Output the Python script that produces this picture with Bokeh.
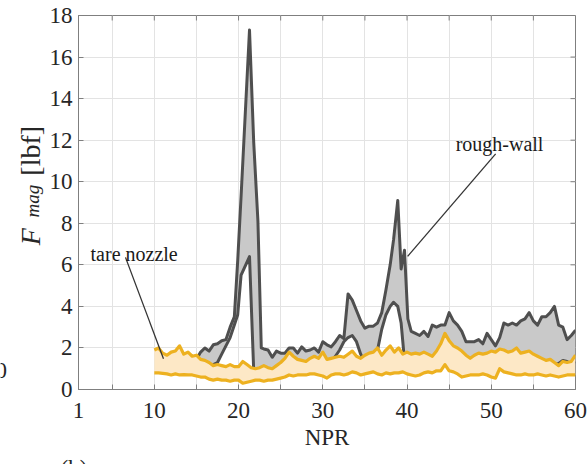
import numpy as np
from bokeh.plotting import figure
from bokeh.layouts import column, row
from bokeh.models import FixedTicker, Label, Range1d
from bokeh.embed import file_html
from bokeh.resources import INLINE

# ---- data: force magnitude vs nozzle pressure ratio -------------------------
# tare nozzle envelope (sampled every 0.5 NPR from 10 to 60)
tare_npr = np.arange(10.0, 60.01, 0.5)
tare_hi = [1.90, 2.00, 1.75, 1.65, 1.80, 1.85, 2.10, 1.70, 1.80, 1.60,
           1.65, 1.45, 1.40, 1.30, 1.15, 1.20, 1.15, 1.10, 1.20, 1.10,
           1.10, 1.35, 1.20, 1.05, 1.00, 1.05, 1.15, 1.05, 1.00, 1.15,
           1.30, 1.50, 1.80, 1.60, 1.45, 1.40, 1.35, 1.50, 1.60, 1.50,
           1.80, 1.45, 1.50, 1.55, 1.60, 1.55, 1.70, 1.85, 1.60, 1.50,
           1.65, 1.75, 1.80, 2.00, 1.65, 1.90, 2.10, 1.80, 2.00, 1.70,
           1.80, 1.70, 1.75, 1.70, 1.80, 1.70, 1.60, 1.85, 2.20, 2.70,
           2.35, 2.10, 2.00, 1.85, 1.65, 1.50, 1.65, 1.75, 1.70, 1.75,
           1.85, 1.80, 1.95, 1.90, 1.80, 1.85, 2.00, 1.75, 1.80, 1.85,
           1.70, 1.60, 1.50, 1.40, 1.45, 1.30, 1.15, 1.35, 1.30, 1.35,
           1.65]
tare_lo = [0.80, 0.80, 0.78, 0.75, 0.70, 0.75, 0.70, 0.72, 0.70, 0.70,
           0.65, 0.60, 0.60, 0.50, 0.45, 0.50, 0.45, 0.45, 0.40, 0.45,
           0.45, 0.30, 0.35, 0.40, 0.45, 0.45, 0.40, 0.45, 0.45, 0.50,
           0.55, 0.60, 0.70, 0.65, 0.70, 0.70, 0.70, 0.75, 0.75, 0.70,
           0.65, 0.55, 0.70, 0.75, 0.75, 0.70, 0.75, 0.85, 0.80, 0.70,
           0.75, 0.80, 0.85, 0.75, 0.70, 0.80, 0.75, 0.80, 0.80, 0.85,
           0.75, 0.70, 0.65, 0.70, 0.80, 0.85, 0.80, 0.90, 0.90, 1.20,
           0.90, 0.85, 0.75, 0.60, 0.65, 0.70, 0.70, 0.70, 0.75, 0.70,
           0.60, 0.55, 1.00, 0.85, 0.80, 0.75, 0.70, 0.70, 0.75, 0.70,
           0.70, 0.75, 0.70, 0.65, 0.70, 0.65, 0.60, 0.65, 0.70, 0.70,
           0.70]

# rough-wall nozzle envelope
rough_npr = [10.5, 11.0, 11.5, 12.0, 12.5, 13.0, 13.5, 14.0, 14.5, 15.0,
             15.5, 16.0, 16.5, 17.0, 17.5, 18.0, 18.5, 19.0, 19.5, 19.9,
             20.3, 21.3, 21.8, 22.3, 22.7, 23.0, 23.5, 24.0, 24.5, 25.0,
             25.5, 26.0, 26.5, 27.0, 27.5, 28.0, 28.5, 29.0, 29.5, 30.0,
             30.5, 31.0, 31.5, 32.0, 32.5, 33.0, 33.5, 34.0, 34.5, 35.0,
             35.5, 36.0, 36.5, 37.0, 37.5, 38.0, 38.4, 38.9, 39.3, 39.7,
             40.1, 40.5, 41.0, 41.5, 42.0, 42.5, 43.0, 43.5, 44.0, 44.5,
             45.0, 45.5, 46.0, 46.5, 47.0, 47.5, 48.0, 48.5, 49.0, 49.5,
             50.0, 50.5, 51.0, 51.5, 52.0, 52.5, 53.0, 53.5, 54.0, 54.5,
             55.0, 55.5, 56.0, 56.5, 57.0, 57.5, 58.0, 58.5, 59.0, 59.5,
             60.0]
rough_hi = [1.50, 1.40, 1.35, 1.40, 1.30, 1.35, 1.30, 1.25, 1.30, 1.45,
            1.80, 2.00, 1.85, 2.15, 2.20, 2.35, 2.40, 3.00, 3.50, 6.20,
            9.30, 17.30, 11.90, 8.10, 2.00, 1.95, 1.90, 1.55, 1.85, 1.75,
            1.75, 2.00, 2.00, 1.75, 2.05, 1.85, 1.90, 2.00, 1.80, 2.30,
            2.15, 2.05, 2.30, 2.60, 2.45, 4.60, 4.30, 3.80, 3.30, 2.95,
            3.05, 3.05, 3.20, 3.70, 4.80, 6.00, 7.20, 9.10, 5.80, 6.70,
            3.40, 2.80, 2.70, 2.60, 2.80, 2.55, 3.10, 3.00, 3.10, 3.10,
            3.70, 3.30, 3.10, 2.80, 2.30, 2.30, 2.30, 2.40, 2.20, 2.70,
            2.40, 2.10, 2.50, 3.20, 3.10, 3.20, 3.10, 3.30, 3.40, 3.70,
            3.30, 3.10, 3.50, 3.50, 3.70, 4.00, 3.10, 3.00, 2.40, 2.60,
            2.85]
rough_lo = [0.85, 0.82, 0.80, 0.78, 0.80, 0.78, 0.80, 0.78, 0.80, 0.85,
            1.00, 1.10, 1.10, 1.20, 1.30, 1.70, 2.10, 2.50, 3.10, 3.60,
            5.50, 6.40, 0.90, 1.00, 1.00, 1.05, 1.00, 0.90, 1.00, 1.10,
            1.20, 1.30, 1.30, 1.25, 1.20, 1.20, 1.30, 1.35, 1.30, 1.40,
            1.30, 1.35, 1.60, 1.90, 2.30, 2.50, 2.60, 2.30, 1.70, 1.30,
            1.35, 1.40, 1.90, 2.90, 3.60, 4.00, 4.20, 4.00, 3.20, 1.40,
            1.30, 1.40, 1.40, 1.50, 1.45, 1.50, 1.45, 1.50, 1.60, 1.70,
            1.60, 1.55, 1.50, 1.45, 1.40, 1.35, 1.40, 1.45, 1.40, 1.50,
            1.45, 1.40, 1.50, 1.45, 1.40, 1.45, 1.50, 1.60, 1.55, 1.50,
            1.55, 1.40, 1.25, 1.20, 1.35, 1.20, 1.25, 1.40, 1.35, 1.20,
            1.35]

x_ticks = [1, 10, 20, 30, 40, 50, 60]
x_minor = [5, 15, 25, 35, 45, 55]
y_ticks = [0, 2, 4, 6, 8, 10, 12, 14, 16, 18]
X_MIN, X_MAX = 1, 60
Y_MIN, Y_MAX = 0, 18

# ---- styling -----------------------------------------------------------------
SERIF = "Liberation Serif"
AX_GRAY = "#7f7f7f"
TXT = "#262626"
GRID = "#e3e3e3"
DARK = "#4f4f4f"
GRAY_FILL = "#c9c9c9"
ORANGE = "#edb120"
PEACH = "#fde8c6"

W, H = 587, 464
LEFT_W = 45            # strip holding the rotated y title
FOOT_H = 12            # strip along the bottom edge
TOP, BOTTOM = 15, 73   # frame margins (px) of the main plot


def bare(width, height, xr, yr, **kw):
    """A figure without axes, used as a canvas for loose text."""
    f = figure(width=width, height=height, x_range=Range1d(*xr), y_range=Range1d(*yr),
               output_backend="svg", toolbar_location=None,
               x_axis_type=None, y_axis_type=None, **kw)
    f.outline_line_color = None
    f.background_fill_color = "white"
    f.border_fill_color = "white"
    f.grid.visible = False
    return f


# ---- main plot ---------------------------------------------------------------
p = figure(width=W - LEFT_W, height=H - FOOT_H,
           x_range=Range1d(X_MIN, X_MAX), y_range=Range1d(Y_MIN, Y_MAX),
           output_backend="svg", toolbar_location=None,
           min_border_left=78 - LEFT_W, min_border_right=12, min_border_top=TOP,
           min_border_bottom=BOTTOM - FOOT_H)
p.background_fill_color = "white"
p.border_fill_color = "white"
p.outline_line_color = AX_GRAY
p.outline_line_width = 1

xt = FixedTicker(ticks=x_ticks, minor_ticks=x_minor)
yt = FixedTicker(ticks=y_ticks, minor_ticks=[])
p.xaxis.ticker = xt
p.yaxis.ticker = yt

for ax in (p.xaxis[0], p.yaxis[0]):
    ax.axis_line_color = AX_GRAY
    ax.major_tick_line_color = AX_GRAY
    ax.minor_tick_line_color = AX_GRAY
    ax.major_tick_in = 5
    ax.major_tick_out = 0
    ax.minor_tick_in = 5
    ax.minor_tick_out = 0
    ax.major_label_text_font = SERIF
    ax.major_label_text_font_size = "23px"
    ax.major_label_text_color = TXT

p.yaxis.minor_tick_line_color = None
p.yaxis.major_label_standoff = 6
p.xaxis.major_label_standoff = 13
p.xaxis.axis_label = "NPR"
p.xaxis.axis_label_text_font = SERIF
p.xaxis.axis_label_text_font_size = "23px"
p.xaxis.axis_label_text_font_style = "normal"
p.xaxis.axis_label_text_color = TXT
p.xaxis.axis_label_standoff = 4

p.xgrid.grid_line_color = GRID
p.xgrid.minor_grid_line_color = GRID
p.ygrid.grid_line_color = GRID

# inward tick marks mirrored on the top and right edges
p.ray(x=x_ticks + x_minor, y=Y_MAX, length=5, length_units="screen",
      angle=-np.pi / 2, line_color=AX_GRAY, line_width=1)
p.ray(x=X_MAX, y=y_ticks, length=5, length_units="screen",
      angle=np.pi, line_color=AX_GRAY, line_width=1)

# rough-wall envelope
p.varea(x=rough_npr, y1=rough_lo, y2=rough_hi, fill_color=GRAY_FILL)
p.line(rough_npr, rough_hi, line_color=DARK, line_width=3, line_join="round")
p.line(rough_npr, rough_lo, line_color=DARK, line_width=3, line_join="round")

# tare nozzle envelope
p.varea(x=tare_npr, y1=tare_lo, y2=tare_hi, fill_color=PEACH)
p.line(tare_npr, tare_hi, line_color=ORANGE, line_width=3.2, line_join="round")
p.line(tare_npr, tare_lo, line_color=ORANGE, line_width=3.2, line_join="round")

# callouts
p.line([6.58, 11.09], [6.36, 1.48], line_color="#333333", line_width=1.3)
p.line([50.52, 40.07], [11.34, 6.41], line_color="#333333", line_width=1.3)
p.add_layout(Label(x=2.43, y=6.53, text="tare nozzle", text_font=SERIF,
                   text_font_size="20px", text_color="#1a1a1a",
                   text_baseline="alphabetic"))
p.add_layout(Label(x=45.77, y=11.8, text="rough-wall", text_font=SERIF,
                   text_font_size="20px", text_color="#1a1a1a",
                   text_baseline="alphabetic"))

# ---- rotated y title: F_mag [lbf] ---------------------------------------------
# the strip's frame lines up with the main frame; its data units are canvas
# pixels measured upward from the bottom edge of the page
lab = bare(LEFT_W, H - FOOT_H, (0, LEFT_W), (H - (H - BOTTOM), H - TOP),
           min_border_left=0, min_border_right=0, min_border_top=TOP,
           min_border_bottom=BOTTOM - FOOT_H)
ylab = dict(angle=np.pi / 2, text_font=SERIF, text_color=TXT,
            text_baseline="alphabetic", text_align="left")
lab.add_layout(Label(x=30, y=H - 246, text="F", text_font_size="28px",
                     text_font_style="italic", **ylab))
lab.add_layout(Label(x=31.5, y=H - 218, text="mag", text_font_size="19px",
                     text_font_style="italic", **ylab))
lab.add_layout(Label(x=30, y=H - 176, text="[lbf]", text_font_size="28px", **ylab))
# edge of the neighbouring panel's tick label
lab.add_layout(Label(x=6.5, y=H - 372, text="0", text_align="right",
                     text_font=SERIF, text_font_size="23px", text_color=TXT,
                     text_baseline="alphabetic"))

# ---- bottom strip with the panel tag -----------------------------------------
foot = bare(W, FOOT_H, (0, W), (0, FOOT_H), min_border_left=0, min_border_right=0,
            min_border_top=0, min_border_bottom=0)
foot.add_layout(Label(x=60, y=-4, text="(b)", text_font=SERIF,
                      text_font_size="23px", text_color=TXT,
                      text_baseline="alphabetic"))

page = column(row(lab, p, spacing=0), foot, spacing=0)
open("out.html", "w").write(file_html(page, INLINE))
